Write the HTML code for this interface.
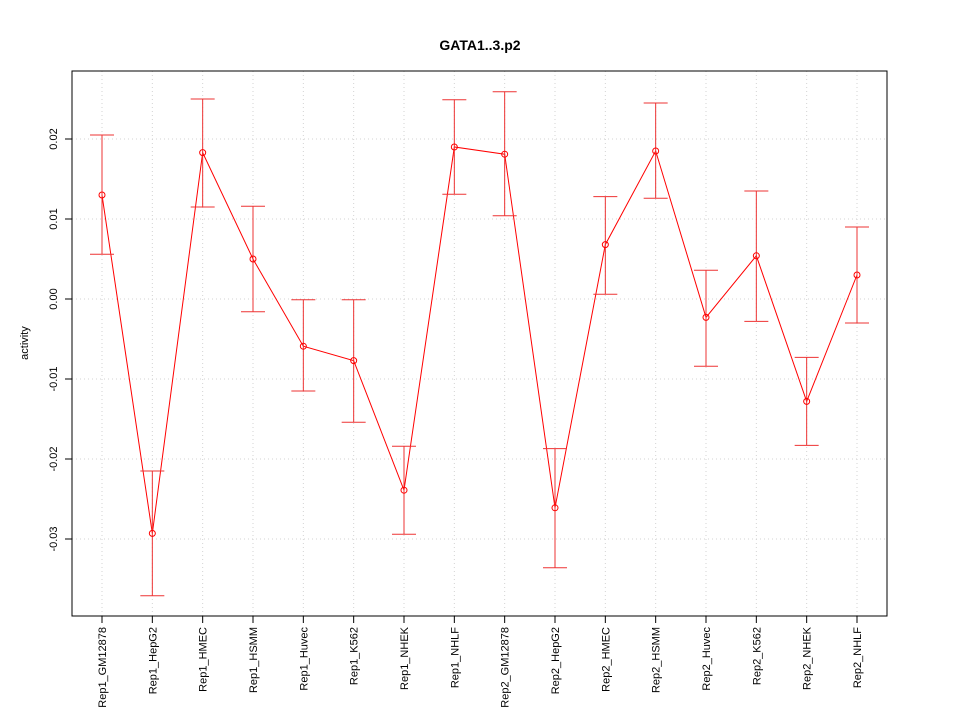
<!DOCTYPE html>
<html><head><meta charset="utf-8"><style>body{margin:0;background:#fff}svg{font-family:"Liberation Sans",sans-serif}</style></head>
<body>
<svg id="chart" width="960" height="720" xmlns="http://www.w3.org/2000/svg">
<text x="480" y="50" text-anchor="middle" font-size="14" font-weight="bold">GATA1..3.p2</text>
<text transform="translate(28,343) rotate(-90)" text-anchor="middle" font-size="11">activity</text>
<g id="grid"></g><g id="axes"></g><g id="marks"></g>
<rect x="72" y="71" width="815" height="545" fill="none" stroke="#000"/>
</svg>
<script>
const categories=["Rep1_GM12878","Rep1_HepG2","Rep1_HMEC","Rep1_HSMM","Rep1_Huvec","Rep1_K562","Rep1_NHEK","Rep1_NHLF","Rep2_GM12878","Rep2_HepG2","Rep2_HMEC","Rep2_HSMM","Rep2_Huvec","Rep2_K562","Rep2_NHEK","Rep2_NHLF"];
const values=[0.0130,-0.0293,0.0183,0.0050,-0.0059,-0.0077,-0.0239,0.0190,0.0181,-0.0261,0.0068,0.0185,-0.0023,0.0054,-0.0128,0.0030];
const upper=[0.0205,-0.0215,0.0250,0.0116,-0.0001,-0.0001,-0.0184,0.0249,0.0259,-0.0187,0.0128,0.0245,0.0036,0.0135,-0.0073,0.0090];
const lower=[0.0056,-0.0371,0.0115,-0.0016,-0.0115,-0.0154,-0.0294,0.0131,0.0104,-0.0336,0.0006,0.0126,-0.0084,-0.0028,-0.0183,-0.0030];
const yTicks=[-0.03,-0.02,-0.01,0.00,0.01,0.02];
const yTickLabels=["-0.03","-0.02","-0.01","0.00","0.01","0.02"];
const NS="http://www.w3.org/2000/svg";
const x=i=>102+i*(755/15);
const y=v=>299-v*8000;
function mk(parent,tag,attrs){const e=document.createElementNS(NS,tag);for(const k in attrs)e.setAttribute(k,attrs[k]);document.getElementById(parent).appendChild(e);return e;}
yTicks.forEach((t,i)=>{
 const g=mk('grid','line',{x1:72,x2:887,y1:y(t),y2:y(t),stroke:'#d3d3d3','stroke-dasharray':'1,3'});
 
 
 const tk=mk('axes','line',{x1:65,x2:72,y1:y(t),y2:y(t),stroke:'#000'});
 
 
 const tl=mk('axes','text',{transform:`translate(57,${y(t)}) rotate(-90)`,'text-anchor':'middle','font-size':11});
 tl.textContent=yTickLabels[i];
 
 
});
categories.forEach((c,i)=>{
 const g=mk('grid','line',{x1:x(i),x2:x(i),y1:71,y2:616,stroke:'#d3d3d3','stroke-dasharray':'1,3'});
 
 
 const tk=mk('axes','line',{x1:x(i),x2:x(i),y1:616,y2:623,stroke:'#000'});
 
 
 const tl=mk('axes','text',{transform:`translate(${x(i)+4},627) rotate(-90)`,'text-anchor':'end','font-size':11});
 tl.textContent=c;
 
 
});
const line=mk('marks','polyline',{points:values.map((v,i)=>x(i)+','+y(v)).join(' '),fill:'none',stroke:'#f00'});


values.forEach((v,i)=>{
 const eb=mk('marks','path',{d:`M${x(i)},${y(upper[i])}V${y(lower[i])}M${x(i)-12},${y(upper[i])}H${x(i)+12}M${x(i)-12},${y(lower[i])}H${x(i)+12}`,stroke:'#e33',fill:'none'});
 
 
 const p=mk('marks','circle',{cx:x(i),cy:y(v),r:3,fill:'none',stroke:'#f00'});
 
 
});
</script>
</body></html>
